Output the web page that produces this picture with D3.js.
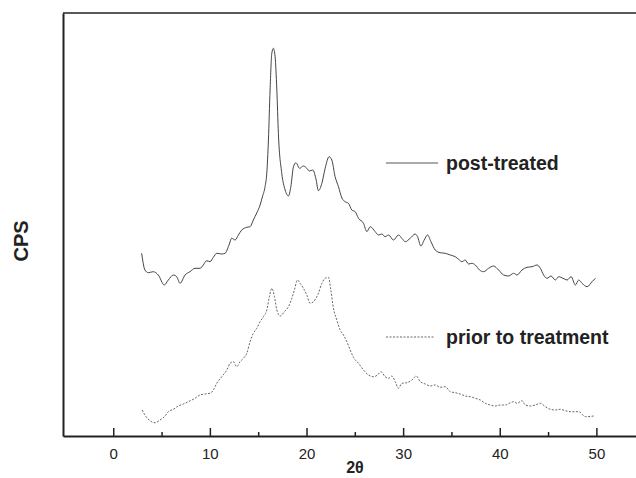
<!DOCTYPE html>
<html>
<head>
<meta charset="utf-8">
<script src="https://cdn.jsdelivr.net/npm/d3@7"></script>
<style>
  body { margin: 0; background: #fff; }
  text { font-family: "Liberation Sans", Arial, sans-serif; fill: #222; }
</style>
</head>
<body>
<script>
// XRD patterns, 2θ (deg) vs intensity (CPS, arbitrary offset)
const postTheta = [2.94, 3.28, 3.63, 4.14, 4.66, 5.28, 5.70, 6.22, 6.57, 6.91, 7.43, 7.94, 8.46, 8.98, 9.32, 9.67, 10.02, 10.36, 10.71, 11.23,
  11.57, 11.98, 12.26, 12.61, 12.95, 13.30, 13.82, 14.16, 14.50, 14.85, 15.20, 15.43, 15.71, 15.89, 16.06, 16.23, 16.41, 16.57, 16.75, 16.93,
  17.09, 17.44, 17.79, 18.13, 18.38, 18.65, 18.92, 19.27, 19.68, 20.03, 20.30, 20.65, 21.00, 21.23, 21.59, 21.93, 22.34, 22.62, 22.96, 23.31,
  23.66, 24.00, 24.34, 24.69, 25.04, 25.38, 25.90, 26.25, 26.59, 27.11, 27.45, 27.80, 28.14, 28.49, 29.00, 29.52, 29.87, 30.22, 30.73, 31.25,
  31.49, 31.84, 32.18, 32.53, 32.88, 33.32, 33.84, 34.36, 34.88, 35.39, 35.74, 36.09, 36.43, 36.77, 37.12, 37.47, 37.91, 38.33, 38.84, 39.36,
  39.88, 40.40, 40.92, 41.43, 41.79, 42.30, 42.82, 43.34, 43.86, 44.20, 44.54, 44.89, 45.31, 45.75, 46.10, 46.55, 46.97, 47.38, 47.83, 48.17,
  48.52, 49.04, 49.55, 49.90];
const postCps = [1827, 1660, 1633, 1643, 1610, 1510, 1560, 1610, 1593, 1527, 1610, 1643, 1677, 1677, 1710, 1753, 1743, 1787, 1827, 1820,
  1827, 1910, 1977, 1960, 2010, 2060, 2087, 2093, 2160, 2230, 2310, 2390, 2493, 2627, 2960, 3460, 3827, 3877, 3793, 3460,
  3027, 2627, 2460, 2400, 2493, 2693, 2733, 2677, 2700, 2677, 2650, 2660, 2560, 2453, 2527, 2677, 2793, 2760, 2593, 2493,
  2380, 2343, 2327, 2260, 2243, 2177, 2127, 2043, 2093, 2043, 2010, 2020, 1993, 2010, 1960, 2010, 1977, 1943, 1977, 2020,
  1993, 1900, 1960, 2010, 1943, 1860, 1833, 1827, 1810, 1793, 1767, 1743, 1760, 1720, 1727, 1710, 1660, 1643, 1677, 1700,
  1660, 1610, 1600, 1627, 1610, 1660, 1687, 1693, 1710, 1677, 1610, 1577, 1600, 1560, 1593, 1577, 1560, 1593, 1510, 1560,
  1527, 1493, 1543, 1577];

const priorTheta = [3.00, 3.28, 3.80, 4.32, 4.84, 5.36, 5.70, 6.22, 6.73, 7.25, 7.77, 8.46, 8.98, 9.50, 10.02, 10.36, 10.71, 11.23, 11.75, 12.09,
  12.43, 12.78, 13.12, 13.47, 13.82, 14.16, 14.50, 14.85, 15.20, 15.54, 15.89, 16.16, 16.41, 16.68, 16.93, 17.27, 17.71, 18.13, 18.48, 18.75,
  19.06, 19.34, 19.68, 20.03, 20.37, 20.72, 21.23, 21.59, 21.93, 22.27, 22.52, 22.79, 23.14, 23.48, 23.82, 24.18, 24.52, 24.86, 25.38, 25.90,
  26.41, 26.93, 27.35, 27.70, 28.14, 28.49, 28.84, 29.18, 29.52, 29.87, 30.39, 30.91, 31.36, 31.77, 32.29, 32.80, 33.32, 33.84, 34.36, 34.88,
  35.39, 35.91, 36.43, 36.95, 37.47, 37.99, 38.50, 39.02, 39.54, 40.06, 40.57, 41.09, 41.43, 41.79, 42.30, 42.65, 43.16, 43.68, 44.20, 44.72,
  45.23, 45.75, 46.27, 46.79, 47.31, 48.17, 48.86, 49.72];
const priorCps = [260, 210, 153, 133, 160, 200, 243, 267, 300, 320, 343, 377, 410, 420, 427, 460, 527, 593, 660, 727,
  743, 693, 743, 777, 827, 943, 1027, 1077, 1143, 1193, 1260, 1393, 1477, 1393, 1260, 1200, 1243, 1293, 1377, 1460,
  1560, 1527, 1477, 1410, 1327, 1343, 1427, 1527, 1577, 1587, 1460, 1277, 1160, 1060, 1010, 943, 860, 787, 727, 660,
  610, 593, 610, 643, 593, 577, 600, 543, 477, 527, 533, 560, 600, 543, 520, 500, 510, 487, 493, 443,
  433, 420, 400, 393, 377, 360, 327, 310, 300, 310, 310, 333, 343, 327, 353, 310, 300, 310, 327, 293,
  267, 260, 267, 253, 243, 243, 193, 200];

const majorTicks = [0, 10, 20, 30, 40, 50];
const minorTicks = [5, 15, 25, 35, 45];
const seriesNames = ["post-treated", "prior to treatment"];

const width = 636, height = 478;
const margin = { top: 13, right: 0, bottom: 42, left: 63 };

const x = d3.scaleLinear()
  .domain([-5.2, 54.1])
  .range([margin.left, width - margin.right]);
const y = d3.scaleLinear()
  .domain([0, 4230])
  .range([height - margin.bottom, margin.top]);

const svg = d3.select("body").append("svg")
  .attr("width", width)
  .attr("height", height);

// frame: top border only, no right border
svg.append("line")
  .attr("x1", margin.left).attr("x2", width)
  .attr("y1", margin.top).attr("y2", margin.top)
  .attr("stroke", "#222").attr("stroke-width", 1.5);

svg.append("g")
  .attr("transform", `translate(${margin.left},0)`)
  .call(d3.axisLeft(y).tickValues([]).tickSizeOuter(0))
  .call(g => g.select(".domain").attr("stroke", "#222").attr("stroke-width", 2));

const xAxisG = svg.append("g")
  .attr("transform", `translate(0,${height - margin.bottom})`);
xAxisG.append("g")
  .call(d3.axisBottom(x).tickValues(minorTicks).tickSizeInner(-4).tickSizeOuter(0).tickFormat(""))
  .call(g => g.select(".domain").remove())
  .call(g => g.selectAll(".tick line").attr("stroke", "#222").attr("stroke-width", 1.5));
xAxisG.append("g")
  .call(d3.axisBottom(x).tickValues(majorTicks).tickSizeInner(-8).tickSizeOuter(0).tickPadding(12))
  .call(g => g.select(".domain").attr("stroke", "#222").attr("stroke-width", 2))
  .call(g => g.selectAll(".tick line").attr("stroke", "#222").attr("stroke-width", 1.5))
  .call(g => g.selectAll(".tick text")
    .attr("font-family", "'Liberation Sans', Arial, sans-serif")
    .attr("font-size", 15).attr("fill", "#222"));

// axis titles
svg.append("text")
  .attr("x", 355).attr("y", 473)
  .attr("text-anchor", "middle")
  .attr("font-size", 16).attr("font-weight", "bold")
  .text("2θ");
svg.append("text")
  .attr("transform", "translate(28,241) rotate(-90)")
  .attr("text-anchor", "middle")
  .attr("font-size", 20).attr("font-weight", "bold")
  .text("CPS");

const line = d3.line()
  .x(d => x(d[0]))
  .y(d => y(d[1]))
  .curve(d3.curveMonotoneX);

svg.append("path")
  .datum(d3.zip(postTheta, postCps))
  .attr("fill", "none")
  .attr("stroke", "#444")
  .attr("stroke-width", 1)
  .attr("d", line);

svg.append("path")
  .datum(d3.zip(priorTheta, priorCps))
  .attr("fill", "none")
  .attr("stroke", "#666")
  .attr("stroke-width", 1)
  .attr("stroke-dasharray", "2,1.5")
  .attr("d", line);

// legends
const legend = [
  { name: seriesNames[0], y: 163, x2: 438, stroke: "#555", dash: null },
  { name: seriesNames[1], y: 337, x2: 434, stroke: "#666", dash: "2,1.5" }
];
legend.forEach(l => {
  svg.append("line")
    .attr("x1", 386).attr("x2", l.x2)
    .attr("y1", l.y).attr("y2", l.y)
    .attr("stroke", l.stroke).attr("stroke-width", 1)
    .attr("stroke-dasharray", l.dash);
  svg.append("text")
    .attr("x", 446).attr("y", l.y + 7)
    .attr("font-size", 19.5).attr("font-weight", "bold")
    .text(l.name);
});
</script>
</body>
</html>
